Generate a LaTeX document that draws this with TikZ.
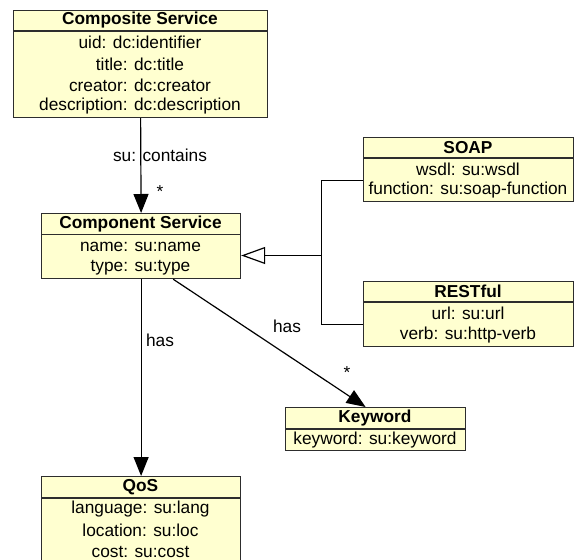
\documentclass[tikz,border=0pt]{standalone}
\usepackage{fontspec}
\setmainfont{Liberation Sans}
\usetikzlibrary{arrows.meta}
\definecolor{boxfill}{RGB}{255,255,208}
\definecolor{boxline}{RGB}{45,45,45}
\begin{document}
\begin{tikzpicture}[x=1pt,y=-1pt,
  box/.style={draw=boxline, fill=boxfill, line width=1.2pt, inner sep=0pt, anchor=north west},
  divider/.style={draw=boxline, line width=1.2pt},
  ttl/.style={font=\fontsize{17.3}{20}\selectfont\bfseries, inner sep=0pt, text=black},
  attr/.style={font=\fontsize{17.3}{20}\selectfont, inner sep=0pt, text=black},
  lbl/.style={font=\fontsize{17.3}{20}\selectfont, inner sep=0pt, text=black},
  conn/.style={draw=black, line width=1.2pt},
  filled/.style={-{Triangle[length=19pt,width=15pt]}},
  gen/.style={-{Triangle[open,length=24pt,width=17pt,fill=white]}}
]
\useasboundingbox (0,0) rectangle (587,560);
\clip (0,0) rectangle (587,560);

% Composite Service
\node[box, minimum width=254pt, minimum height=107pt] (cs) at (13,10) {};
\draw[divider] ([yshift=-21pt]cs.north west) -- ([yshift=-21pt]cs.north east);
\node[ttl] (cst) at (140,20.5) {Composite Service};
\node[attr] (cs1) at (140,42.5) {uid: dc:identifier};
\node[attr] (cs2) at (140,64) {title: dc:title};
\node[attr] (cs3) at (140,85.5) {creator: dc:creator};
\node[attr] (cs4) at (140,106.5) {description: dc:description};

% Component Service
\node[box, minimum width=199pt, minimum height=65pt] (comp) at (41,213) {};
\draw[divider] ([yshift=-21.5pt]comp.north west) -- ([yshift=-21.5pt]comp.north east);
\node[ttl] (compt) at (140.5,224) {Component Service};
\node[attr] (comp1) at (140.5,247) {name: su:name};
\node[attr] (comp2) at (140.5,268) {type: su:type};

% SOAP
\node[box, minimum width=210pt, minimum height=64pt] (soap) at (363,137) {};
\draw[divider] ([yshift=-21pt]soap.north west) -- ([yshift=-21pt]soap.north east);
\node[ttl] (soapt) at (468,147.5) {SOAP};
\node[attr] (soap1) at (468,169) {wsdl: su:wsdl};
\node[attr] (soap2) at (468,190.5) {function: su:soap-function};

% RESTful
\node[box, minimum width=210pt, minimum height=65pt] (rest) at (363,281) {};
\draw[divider] ([yshift=-21pt]rest.north west) -- ([yshift=-21pt]rest.north east);
\node[ttl] (restt) at (468,291.5) {RESTful};
\node[attr] (rest1) at (468,313.5) {url: su:url};
\node[attr] (rest2) at (468,335) {verb: su:http-verb};

% Keyword
\node[box, minimum width=180pt, minimum height=43pt] (kw) at (285,407) {};
\draw[divider] ([yshift=-22pt]kw.north west) -- ([yshift=-22pt]kw.north east);
\node[ttl] (kwt) at (375,418) {Keyword};
\node[attr] (kw1) at (375,440.5) {keyword: su:keyword};

% QoS
\node[box, minimum width=199pt, minimum height=100pt] (qos) at (41,476) {};
\draw[divider] ([yshift=-22pt]qos.north west) -- ([yshift=-22pt]qos.north east);
\node[ttl] (qost) at (140.5,487) {QoS};
\node[attr] (qos1) at (140.5,509.5) {language: su:lang};
\node[attr] (qos2) at (140.5,530.5) {location: su:loc};
\node[attr] (qos3) at (140.5,551.5) {cost: su:cost};

% connectors
\draw[conn, filled] (cs.south) -- (comp.north);
\node[lbl] (lcontains) at (160,155) {su: contains};
\node[lbl] (lstar1) at (160,192) {*};

\coordinate (junc) at (321.5,255.5);
\draw[conn] ([yshift=-10.5pt]soap.west) -| (junc) |- ([yshift=-10pt]rest.west);
\draw[conn, gen] (junc) -- (comp.east |- junc);

\draw[conn, filled] ([xshift=-68pt]comp.south east) -- ([xshift=-10pt]kw.north);
\node[lbl] (lhas1) at (287,326) {has};
\node[lbl] (lstar2) at (347,373) {*};

\draw[conn, filled] (comp.south) -- (qos.north);
\node[lbl] (lhas2) at (160,340) {has};
\end{tikzpicture}
\end{document}
